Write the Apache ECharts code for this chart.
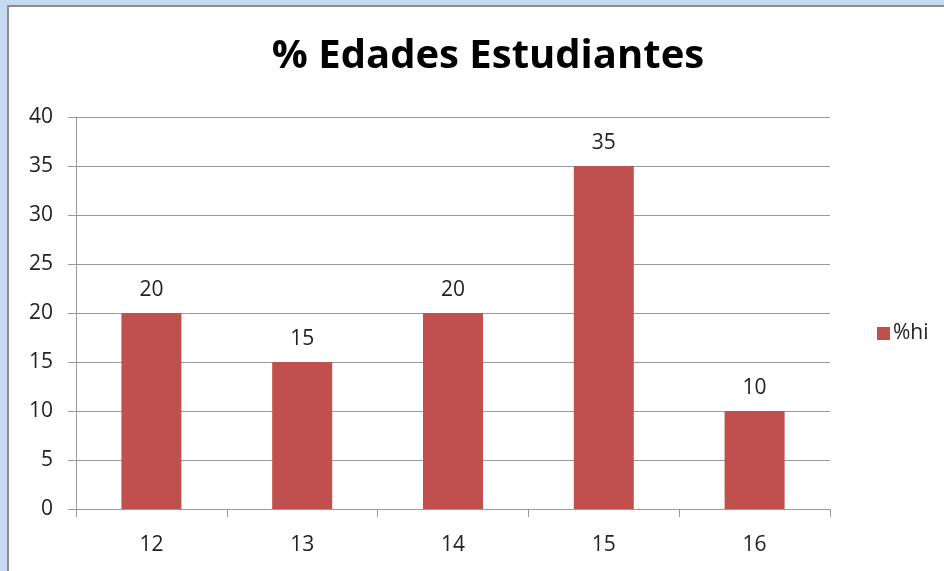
<!DOCTYPE html>
<html>
<head>
<meta charset="utf-8">
<script src="https://cdn.jsdelivr.net/npm/echarts@6/dist/echarts.min.js"></script>
<style>
  html, body { margin: 0; padding: 0; background: #c6d9f1; }
  #frame { position: absolute; left: 7px; top: 5px; width: 937px; height: 566px;
           border-left: 2px solid #8c8c8c; border-top: 2px solid #8c8c8c; background: #fff; }
  #chart { position: absolute; left: 0; top: 0; width: 944px; height: 571px; }
</style>
</head>
<body>
<div id="frame"></div>
<div id="chart"></div>
<script>
const categories = ['12', '13', '14', '15', '16']
const values = [20, 15, 20, 35, 10]
const seriesName = '%hi'
const titleText = '% Edades Estudiantes'

let chart = echarts.init(document.getElementById('chart'))
chart.setOption({
    textStyle: { fontFamily: 'Open Sans' },
    title: {
        text: titleText,
        left: 483,
        textAlign: 'center',
        top: 32,
        textStyle: { fontFamily: 'Open Sans', fontWeight: 'bold', fontSize: 40, color: '#000' }
    },
    legend: {
        data: [seriesName],
        orient: 'vertical',
        left: 872,
        top: 318,
        itemWidth: 13,
        itemHeight: 13,
        itemGap: 6,
        icon: 'rect',
        textStyle: { fontSize: 21, color: '#222', padding: [0, 0, 0, -2] }
    },
    grid: { left: 76, right: 114, top: 117, bottom: 62, containLabel: false },
    xAxis: {
        type: 'category',
        data: categories,
        axisLine: { lineStyle: { color: '#9a9a9a', width: 1 } },
        axisTick: { show: true, length: 8, lineStyle: { color: '#9a9a9a' } },
        axisLabel: { fontSize: 21, color: '#222', margin: 26 }
    },
    yAxis: {
        type: 'value',
        min: 0,
        max: 40,
        interval: 5,
        axisLine: { show: true, lineStyle: { color: '#9a9a9a' } },
        axisTick: { show: true, length: 8, inside: false, lineStyle: { color: '#9a9a9a' } },
        splitLine: { lineStyle: { color: '#9a9a9a' } },
        axisLabel: { fontSize: 21, color: '#222', margin: 23 }
    },
    series: [{
        name: seriesName,
        type: 'bar',
        data: values,
        barWidth: 60,
        itemStyle: { color: '#c0504d' },
        label: { show: true, position: 'top', distance: 12, fontSize: 21, color: '#222' }
    }]
})
</script>
</body>
</html>
